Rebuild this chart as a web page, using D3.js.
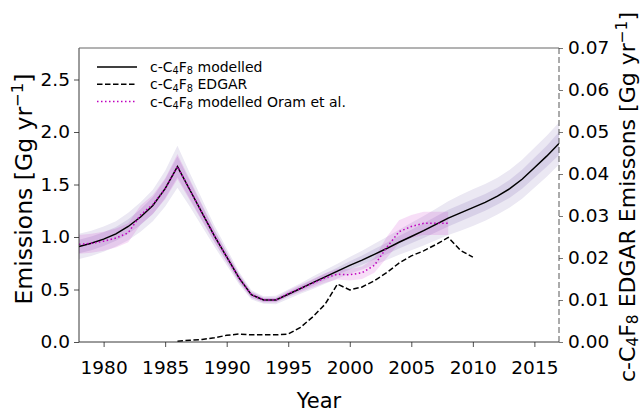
<!DOCTYPE html>
<html>
<head>
<meta charset="utf-8">
<script src="https://cdn.jsdelivr.net/npm/d3@7"></script>
<style>
  body { margin: 0; background: #fff; }
  text { font-family: "DejaVu Sans", sans-serif; fill: #000; }
</style>
</head>
<body>
<svg id="chart" width="640" height="414"></svg>
<script>
const years = [1978, 1979, 1980, 1981, 1982, 1983, 1984, 1985, 1986, 1987,
  1988, 1989, 1990, 1991, 1992, 1993, 1994, 1995, 1996, 1997,
  1998, 1999, 2000, 2001, 2002, 2003, 2004, 2005, 2006, 2007,
  2008, 2009, 2010, 2011, 2012, 2013, 2014, 2015, 2016, 2017];

const modelled = [0.91, 0.94, 0.98, 1.03, 1.10, 1.19, 1.30, 1.46, 1.67, 1.45,
  1.23, 1.01, 0.81, 0.61, 0.45, 0.40, 0.40, 0.455, 0.51, 0.565,
  0.62, 0.675, 0.73, 0.78, 0.835, 0.89, 0.95, 1.005, 1.06, 1.12,
  1.18, 1.23, 1.28, 1.33, 1.39, 1.46, 1.55, 1.66, 1.77, 1.89];

// half widths of the two uncertainty envelopes
const modelledOuter = [0.12, 0.12, 0.12, 0.12, 0.13, 0.14, 0.15, 0.17, 0.20, 0.16,
  0.13, 0.10, 0.08, 0.06, 0.045, 0.035, 0.04, 0.045, 0.05, 0.06,
  0.065, 0.07, 0.08, 0.09, 0.10, 0.11, 0.12, 0.13, 0.14, 0.15,
  0.16, 0.17, 0.175, 0.175, 0.175, 0.18, 0.185, 0.19, 0.195, 0.20];

const modelledInner = [0.065, 0.065, 0.065, 0.065, 0.07, 0.075, 0.08, 0.09, 0.10, 0.085,
  0.07, 0.055, 0.045, 0.035, 0.025, 0.02, 0.02, 0.022, 0.025, 0.03,
  0.033, 0.035, 0.04, 0.045, 0.05, 0.055, 0.06, 0.065, 0.07, 0.075,
  0.08, 0.08, 0.08, 0.08, 0.08, 0.085, 0.09, 0.095, 0.10, 0.11];

const oramYears = years.slice(0, 31);
const oram = [0.93, 0.94, 0.96, 0.99, 1.04, 1.21, 1.31, 1.46, 1.67, 1.45,
  1.23, 1.01, 0.81, 0.61, 0.45, 0.40, 0.40, 0.46, 0.51, 0.56,
  0.61, 0.645, 0.64, 0.66, 0.73, 0.90, 1.05, 1.10, 1.13, 1.13,
  1.13];
const oramUnc = [0.09, 0.09, 0.09, 0.09, 0.09, 0.09, 0.09, 0.10, 0.12, 0.10,
  0.08, 0.06, 0.05, 0.04, 0.03, 0.025, 0.025, 0.03, 0.035, 0.04,
  0.045, 0.05, 0.055, 0.06, 0.07, 0.10, 0.11, 0.11, 0.11, 0.11,
  0.11];

const edgarYears = [1986, 1987, 1988, 1989, 1990, 1991, 1992, 1993, 1994, 1995,
  1996, 1997, 1998, 1999, 2000, 2001, 2002, 2003, 2004, 2005,
  2006, 2007, 2008, 2009, 2010];
const edgar = [0.0002, 0.0004, 0.0006, 0.0010, 0.0016, 0.0019, 0.0017, 0.0017, 0.0017, 0.0019,
  0.0035, 0.0060, 0.0090, 0.0138, 0.0124, 0.0131, 0.0146, 0.0165, 0.0188, 0.0205,
  0.0217, 0.0232, 0.0249, 0.0218, 0.0202];

const xTicks = [1980, 1985, 1990, 1995, 2000, 2005, 2010, 2015];
const yTicks = [0, 0.5, 1.0, 1.5, 2.0, 2.5];
const y2Ticks = [0, 0.01, 0.02, 0.03, 0.04, 0.05, 0.06, 0.07];

const margin = { top: 48, right: 81, bottom: 72, left: 79 };
const width = 640 - margin.left - margin.right;
const height = 414 - margin.top - margin.bottom;

const svg = d3.select("#chart");
const g = svg.append("g").attr("transform", `translate(${margin.left},${margin.top})`);

const x = d3.scaleLinear().domain([1978, 2017]).range([0, width]);
const y = d3.scaleLinear().domain([0, 2.8]).range([height, 0]);
const y2 = d3.scaleLinear().domain([0, 0.07]).range([height, 0]);

const defs = svg.append("defs");
defs.append("clipPath").attr("id", "plot-clip")
  .append("rect").attr("width", width).attr("height", height);

const plot = g.append("g").attr("clip-path", "url(#plot-clip)");

const modelledRows = years.map((yr, i) => ({
  year: yr, value: modelled[i], outer: modelledOuter[i], inner: modelledInner[i]
}));
const oramRows = oramYears.map((yr, i) => ({ year: yr, value: oram[i], unc: oramUnc[i] }));
const edgarRows = edgarYears.map((yr, i) => ({ year: yr, value: edgar[i] }));

function band(key) {
  return d3.area()
    .x(d => x(d.year))
    .y0(d => y(d.value - d[key]))
    .y1(d => y(d.value + d[key]));
}

plot.append("path").datum(modelledRows)
  .attr("fill", "#ebe8f3")
  .attr("d", band("outer"));

plot.append("path").datum(modelledRows)
  .attr("fill", "#d7d0e7")
  .attr("d", band("inner"));

plot.append("path").datum(oramRows)
  .attr("fill", "#bf00bf")
  .attr("fill-opacity", 0.13)
  .attr("d", band("unc"));

const line = d3.line().x(d => x(d.year)).y(d => y(d.value));

plot.append("path").datum(modelledRows)
  .attr("fill", "none")
  .attr("stroke", "#000")
  .attr("stroke-width", 1.5)
  .attr("d", line);

plot.append("path").datum(oramRows)
  .attr("fill", "none")
  .attr("stroke", "#bf00bf")
  .attr("stroke-width", 1.5)
  .attr("stroke-dasharray", "1.5,2.5")
  .attr("d", line);

plot.append("path").datum(edgarRows)
  .attr("fill", "none")
  .attr("stroke", "#000")
  .attr("stroke-width", 1.5)
  .attr("stroke-dasharray", "5.5,2.5")
  .attr("d", d3.line().x(d => x(d.year)).y(d => y2(d.value)));

// axes
const tickFont = "18.5px";

const xAxis = g.append("g")
  .attr("transform", `translate(0,${height})`)
  .call(d3.axisBottom(x).tickValues(xTicks).tickFormat(d3.format("d")).tickSize(5).tickPadding(14));

const yAxis = g.append("g")
  .call(d3.axisLeft(y).tickValues(yTicks).tickFormat(d3.format(".1f")).tickSize(5).tickPadding(4));

const y2Axis = g.append("g")
  .attr("transform", `translate(${width},0)`)
  .call(d3.axisRight(y2).tickValues(y2Ticks).tickFormat(d3.format(".2f")).tickSize(4).tickPadding(5));

[xAxis, yAxis, y2Axis].forEach(axis => {
  axis.select(".domain").remove();
  axis.selectAll("line").attr("stroke", "#222").attr("stroke-width", 0.8);
  axis.selectAll("text")
    .attr("fill", "#000")
    .style("font-family", "DejaVu Sans")
    .style("font-size", tickFont);
});
y2Axis.selectAll("line").attr("stroke", "#555");

// spines
g.append("line").attr("x1", 0).attr("x2", 0).attr("y1", 0).attr("y2", height)
  .attr("stroke", "#222").attr("stroke-width", 0.9);
g.append("line").attr("x1", 0).attr("x2", width).attr("y1", height).attr("y2", height)
  .attr("stroke", "#222").attr("stroke-width", 0.9);
g.append("line").attr("x1", 0).attr("x2", width).attr("y1", 0).attr("y2", 0)
  .attr("stroke", "#666").attr("stroke-width", 1);
g.append("line").attr("x1", width).attr("x2", width).attr("y1", 0).attr("y2", height)
  .attr("stroke", "#444").attr("stroke-width", 0.9)
  .attr("stroke-dasharray", "6,3");

// axis titles
svg.append("text")
  .attr("x", margin.left + width / 2)
  .attr("y", 408)
  .attr("text-anchor", "middle")
  .style("font-size", "21px")
  .text("Year");

function addRich(textEl, parts) {
  parts.forEach(p => {
    const t = textEl.append("tspan").text(p.text);
    if (p.sub) {
      t.style("font-size", "0.7em").attr("dy", "0.22em");
    } else if (p.sup) {
      t.style("font-size", "0.7em").attr("dy", "-0.55em");
    } else if (p.back) {
      t.attr("dy", p.back);
    }
  });
}

const leftLabel = svg.append("text")
  .attr("transform", "translate(32,189) rotate(-90)")
  .attr("text-anchor", "middle")
  .style("font-size", "23.5px");
addRich(leftLabel, [
  { text: "Emissions [Gg yr" },
  { text: "\u22121", sup: true },
  { text: "]", back: "0.385em" }
]);

const rightLabel = svg.append("text")
  .attr("transform", "translate(635,197) rotate(-90)")
  .attr("text-anchor", "middle")
  .style("font-size", "22px");
addRich(rightLabel, [
  { text: "c-C" },
  { text: "4", sub: true },
  { text: "F", back: "-0.154em" },
  { text: "8", sub: true },
  { text: " EDGAR Emissons [Gg yr", back: "-0.154em" },
  { text: "\u22121", sup: true },
  { text: "]", back: "0.385em" }
]);

// legend
const legendItems = [
  { name: "modelled", stroke: "#000", dash: null },
  { name: "EDGAR", stroke: "#000", dash: "5.5,2.5" },
  { name: "modelled Oram et al.", stroke: "#bf00bf", dash: "1.5,2.5" }
];

const legend = svg.append("g").attr("transform", "translate(97,67)");
legend.selectAll("g").data(legendItems).enter().append("g")
  .each((item, i, els) => {
    const row = d3.select(els[i]).attr("transform", `translate(0,${i * 17.3})`);
    row.append("line")
      .attr("x1", 0).attr("x2", 40).attr("y1", 0).attr("y2", 0)
      .attr("stroke", item.stroke)
      .attr("stroke-width", 1.5)
      .attr("stroke-dasharray", item.dash);
    const t = row.append("text")
      .attr("x", 53).attr("y", 0).attr("dy", "0.36em")
      .style("font-size", "14px");
    addRich(t, [
      { text: "c-C" },
      { text: "4", sub: true },
      { text: "F", back: "-0.154em" },
      { text: "8", sub: true },
      { text: " " + item.name, back: "-0.154em" }
    ]);
  });
</script>
</body>
</html>
